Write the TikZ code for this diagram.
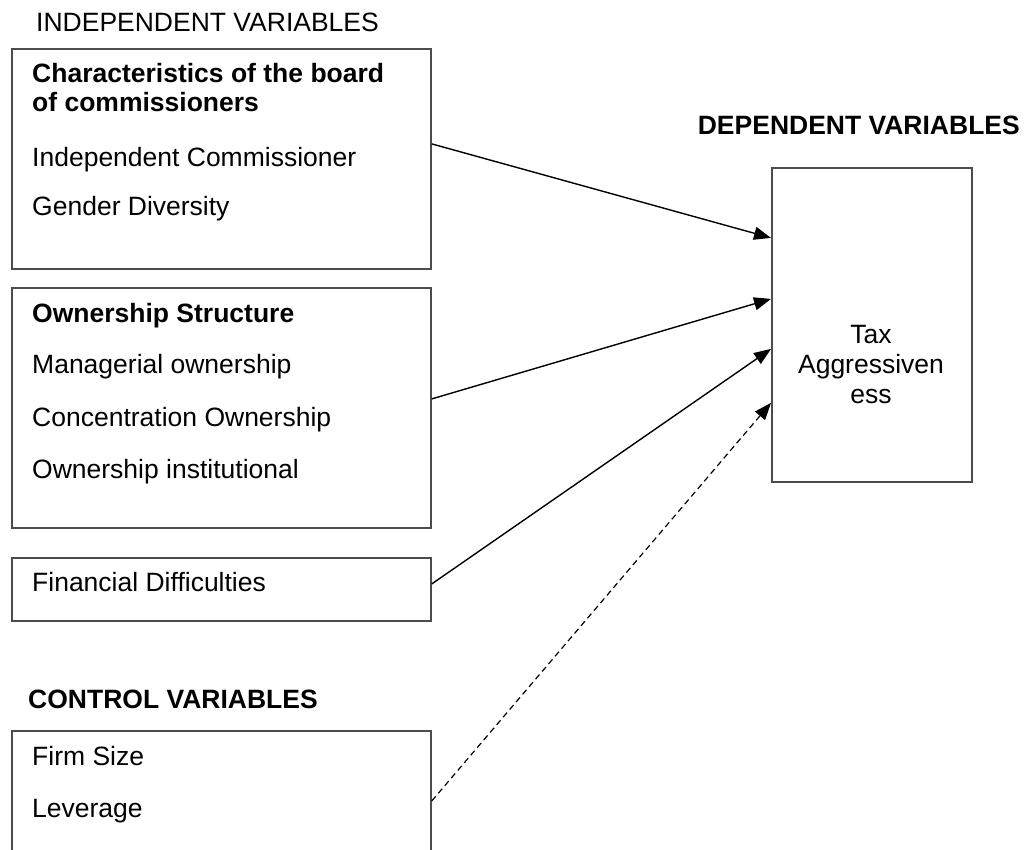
\documentclass[tikz,border=0pt]{standalone}
\usepackage{xcolor}
\usepackage{fontspec}
\setmainfont{Liberation Sans}
\usepackage{tikz}
\usetikzlibrary{arrows.meta}

\definecolor{edgegray}{gray}{0.3}

\begin{document}
\begin{tikzpicture}[x=1pt,y=-1pt,
    font=\fontsize{26.5}{30}\selectfont,
    varbox/.style={draw=edgegray,line width=1.8pt,inner sep=0pt,anchor=north west,minimum width=419pt},
    line/.style={anchor=base west,inner sep=0pt},
    link/.style={-{Triangle[length=17pt,width=13pt]},line width=1.4pt},
    ctrllink/.style={link,dash pattern=on 6pt off 4pt,line width=1.2pt}]
  \useasboundingbox (0,0) rectangle (1027,850);
  \clip (0,0) rectangle (1027,850);
  % Independent variables
  \node[line] (indep) at (36,32) {INDEPENDENT VARIABLES};
  \node[varbox,minimum height=220pt] (board) at (11,48) {};
  \node[line] (boardA) at (32,83) {\bfseries Characteristics of the board};
  \node[line] (boardB) at (32,112) {\bfseries of commissioners};
  \node[line] (indcom) at (32,167) {Independent Commissioner};
  \node[line] (gender) at (32,216) {Gender Diversity};
  % Ownership structure
  \node[varbox,minimum height=240pt] (owner) at (11,287) {};
  \node[line] (ownhead) at (32,322) {\bfseries Ownership Structure};
  \node[line] (manag) at (32,373) {Managerial ownership};
  \node[line] (conc) at (32,426) {Concentration Ownership};
  \node[line] (inst) at (32,478) {Ownership institutional};
  % Financial difficulties
  \node[varbox,minimum height=63pt] (fin) at (11,557) {};
  \node[line] (findif) at (32,591) {Financial Difficulties};
  % Control variables (box runs off the page)
  \node[line] (ctrl) at (28,708) {\bfseries CONTROL VARIABLES};
  \node[varbox,minimum height=140pt] (control) at (11,730) {};
  \node[line] (size) at (32,765) {Firm Size};
  \node[line] (lev) at (32,817) {Leverage};
  % Dependent variable
  \node[anchor=base east,inner sep=0pt] (dep) at (1020,135) {\bfseries DEPENDENT VARIABLES};
  \node[draw=edgegray,line width=1.8pt,inner sep=0pt,anchor=north west,
        minimum width=200pt,minimum height=314pt] (tax) at (771,167) {};
  \node[anchor=base,inner sep=0pt,align=center] (taxtext) at (871,403) {Tax\\Aggressiven\\ess};
  % Arrows
  \draw[link] ([yshift=15pt]board.east) -- ([yshift=87pt]tax.west);
  \draw[link] ([yshift=9pt]owner.east) -- ([yshift=26pt]tax.west);
  \draw[link] ([yshift=5.5pt]fin.east) -- ([yshift=-24pt]tax.west);
  \draw[ctrllink] (control.east) -- ([yshift=-78pt]tax.west);
\end{tikzpicture}
\end{document}
